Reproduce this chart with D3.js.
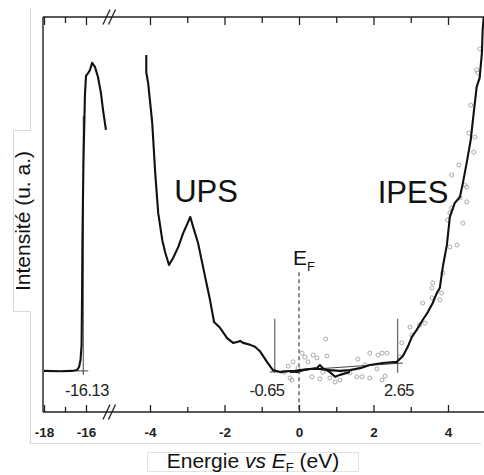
<!DOCTYPE html>
<html><head><meta charset="utf-8">
<script src="https://cdn.jsdelivr.net/npm/d3@7"></script>
<style>body{margin:0;background:#fff} svg{display:block} text{font-family:"Liberation Sans",Arial,sans-serif}</style>
</head><body><svg id="c" width="484" height="475"></svg>
<script>
// ---- data (energy in eV vs E_F, intensity in arbitrary units 0..100) ----
const upsCutoffE = [-18.00,-17.24,-16.67,-16.43,-16.33,-16.26,-16.21,-16.19,-16.17,-16.12,-16.05,-16.00,-15.90,-15.81,-15.71,-15.57,-15.43,-15.29,-15.19,-15.05];
const upsCutoffI = [10.4,10.3,10.4,10.6,11.4,13.2,17.0,28.4,43.5,63.8,80.3,85.1,85.8,86.6,88.4,87.3,84.8,80.8,76.5,71.4];

const upsE = [-4.10,-4.10,-4.05,-3.94,-3.86,-3.78,-3.67,-3.59,-3.49,-3.38,-3.24,-3.11,-3.00,-2.92,-2.84,-2.71,-2.52,-2.39,-2.28,-2.12,-1.93,-1.77,-1.66,-1.58,-1.50,-1.31,-1.18,-1.05,-0.86,-0.70,-0.51,-0.24,-0.05,0.11,0.29,0.48,0.56,0.64,0.83,0.97,1.10,1.37];
const upsI = [90.4,86.0,83.3,73.2,60.5,50.4,43.5,40.3,37.2,39.0,41.8,45.3,47.6,49.4,46.8,42.8,34.2,28.4,22.8,21.3,18.7,17.5,17.7,18.0,17.5,17.0,16.5,15.4,12.7,10.6,10.1,10.4,10.1,10.6,10.9,11.1,11.9,11.1,10.1,8.9,9.4,10.1];

const ipesE = [-0.24,0.03,0.29,0.56,0.83,1.10,1.37,1.64,1.90,2.25,2.63,2.79,2.92,3.03,3.16,3.32,3.46,3.59,3.70,3.78,3.86,3.97,4.05,4.18,4.32,4.40,4.50,4.61,4.69,4.77,4.85,4.91,4.93,4.96];
const ipesI = [10.1,10.6,10.9,10.9,10.6,10.4,10.6,11.1,11.9,12.4,12.7,14.2,16.5,19.0,20.8,23.3,25.3,27.6,30.1,31.4,36.7,42.3,49.4,52.9,54.4,58.0,63.0,68.9,75.7,82.3,84.6,90.9,96.7,100];

const ipesRawE = [-0.40,-0.29,-0.24,-0.19,-0.16,-0.03,0.08,0.16,0.24,0.35,0.38,0.48,0.56,0.64,0.72,0.75,0.83,0.97,1.10,1.18,1.37,1.55,1.58,1.69,1.77,1.90,1.90,2.09,2.12,2.23,2.23,2.31,2.36,2.71,2.76,2.98,3.03,3.24,3.32,3.38,3.57,3.57,3.59,3.78,3.83,3.86,3.99,4.05,4.05,4.10,4.10,4.24,4.29,4.32,4.40,4.45,4.50,4.50,4.56,4.61,4.69,4.72,4.77,4.80,4.85];
const ipesRawI = [10.1,11.6,8.6,8.1,12.7,11.1,14.9,13.9,12.7,8.9,14.4,13.7,8.4,10.1,18.5,14.2,8.6,7.6,8.1,10.1,9.9,8.9,13.4,8.9,11.9,14.9,8.6,10.9,14.4,14.9,8.1,9.1,14.9,13.9,17.5,21.5,19.5,22.0,27.6,22.5,28.9,31.4,32.7,28.4,30.1,35.2,48.6,41.8,50.4,51.6,60.0,42.3,62.5,54.2,47.8,57.5,53.2,57.0,70.6,77.7,65.8,69.6,86.6,85.8,91.9];

const onsetValues = [-16.13, -0.65, 2.65];
const onsetLabels = ["-16.13", "-0.65", "2.65"];
const baselineFitE = [-0.78, 2.79];
const baselineFitI = [10.1, 12.4];

const majorTicksLeft = [-18, -16];
const minorTicksLeft = [-17];
const majorTicksRight = [-4, -2, 0, 2, 4];
const minorTicksRight = [-3, -1, 1, 3, 5];
const xTitle = ["Energie ", "vs", " ", "E", "F", " (eV)"];
const yTitle = "Intensité (u. a.)";

// ---- scales ----
const svg = d3.select("#c");
const xL = d3.scaleLinear().domain([-18, -16]).range([44, 86]);
const xR = d3.scaleLinear().domain([-4, 4]).range([150, 448]);
const X = e => (e < -10 ? xL(e) : xR(e));
const Y = d3.scaleLinear().domain([0, 100]).range([412, 17]);
const yTop = 17, yBot = 412, xLeft = 43, xRight = 484;

// ---- background frame artifacts ----
svg.append("path").attr("d", "M30.5,8 V130.5 H13.5 V311.5 H30.5 V443.5 H481")
  .attr("fill", "none").attr("stroke", "#d9d9d9").attr("stroke-width", 1);
svg.append("rect").attr("x", 147.5).attr("y", 452.5).attr("width", 211).attr("height", 19)
  .attr("fill", "#fff").attr("stroke", "#e2e2e2").attr("stroke-width", 1);

// ---- axes ----
function ticks(scale, vals, size, orient, y, labels) {
  const ax = (orient === "bottom" ? d3.axisBottom(scale) : d3.axisTop(scale))
    .tickValues(vals).tickSizeInner(size).tickSizeOuter(0).tickPadding(15);
  if (!labels) ax.tickFormat("");
  else ax.tickFormat(d => String(d));
  const g = svg.append("g").attr("transform", `translate(0,${y})`).call(ax);
  g.select(".domain").remove();
  g.selectAll("line").attr("stroke", "#222").attr("stroke-width", 1.3);
  g.selectAll("text").attr("fill", "#222").attr("font-size", 13.5).attr("font-weight", "bold")
    .style("font-family", "'Liberation Sans',Arial,sans-serif");
  return g;
}
ticks(xL, majorTicksLeft, -7, "bottom", yBot, true);
ticks(xL, minorTicksLeft, -5, "bottom", yBot, false);
ticks(xR, majorTicksRight, -7, "bottom", yBot, true);
ticks(xR, minorTicksRight, -5, "bottom", yBot, false);
ticks(xL, majorTicksLeft, -8, "top", yTop, false);
ticks(xL, minorTicksLeft, -6, "top", yTop, false);
ticks(xR, majorTicksRight, -8, "top", yTop, false);
ticks(xR, minorTicksRight, -6, "top", yTop, false);

const axisG = svg.append("g").attr("stroke", "#222").attr("stroke-width", 1.4);
axisG.append("line").attr("x1", xLeft).attr("x2", xRight).attr("y1", yBot).attr("y2", yBot);
axisG.append("line").attr("x1", xLeft).attr("x2", xRight).attr("y1", yTop).attr("y2", yTop);
axisG.append("line").attr("x1", xLeft).attr("x2", xLeft).attr("y1", yTop).attr("y2", yBot);
// break marks
[yTop, yBot].forEach(y0 => {
  [0, 5.5].forEach(dx => {
    svg.append("line").attr("x1", 103 + dx).attr("y1", y0 + 7.5).attr("x2", 110 + dx).attr("y2", y0 - 7.5)
      .attr("stroke", "#222").attr("stroke-width", 1.3);
  });
});

// ---- E_F dashed line ----
svg.append("line").attr("x1", X(0)).attr("x2", X(0)).attr("y1", Y(35.4)).attr("y2", Y(0))
  .attr("stroke", "#333").attr("stroke-width", 1.1).attr("stroke-dasharray", "4,3");

// ---- raw IPES points ----
svg.append("g").selectAll("circle").data(ipesRawE.map((e, i) => [e, ipesRawI[i]])).join("circle")
  .attr("cx", d => X(d[0])).attr("cy", d => Y(d[1])).attr("r", 2)
  .attr("fill", "none").attr("stroke", "#aaa").attr("stroke-width", 1);

// ---- onset markers ----
const thin = svg.append("g").attr("stroke", "#444").attr("stroke-width", 1);
thin.append("line").attr("x1", X(onsetValues[0])).attr("x2", X(onsetValues[0])).attr("y1", Y(75)).attr("y2", Y(9.4));
thin.append("line").attr("x1", X(onsetValues[0]) - 6).attr("x2", X(onsetValues[0]) + 5).attr("y1", Y(10.4)).attr("y2", Y(10.4));
[1, 2].forEach(i => {
  thin.append("line").attr("x1", X(onsetValues[i])).attr("x2", X(onsetValues[i])).attr("y1", Y(23.6)).attr("y2", Y(9.9));
});
thin.append("line").attr("x1", X(baselineFitE[0])).attr("x2", X(baselineFitE[1]))
  .attr("y1", Y(baselineFitI[0])).attr("y2", Y(baselineFitI[1]));

// ---- curves ----
const line = d3.line().x(d => X(d[0])).y(d => Y(d[1]));
function curve(E, I) {
  svg.append("path").datum(E.map((e, i) => [e, I[i]])).attr("d", line)
    .attr("fill", "none").attr("stroke", "#111").attr("stroke-width", 2.1).attr("stroke-linejoin", "round");
}
curve(upsCutoffE, upsCutoffI);
curve(upsE, upsI);
curve(ipesE, ipesI);

// ---- labels ----
const labelPos = [87, 267, 399];
onsetLabels.forEach((t, i) => {
  svg.append("text").attr("x", labelPos[i]).attr("y", 396).attr("text-anchor", "middle")
    .attr("font-size", 16.5).attr("fill", "#222").attr("letter-spacing", -0.5).text(t);
});
svg.append("text").attr("x", 206).attr("y", 202).attr("text-anchor", "middle").attr("font-size", 31).attr("fill", "#111").text("UPS");
svg.append("text").attr("x", 413).attr("y", 203).attr("text-anchor", "middle").attr("font-size", 31).attr("fill", "#111").text("IPES");
const ef = svg.append("text").attr("x", 293).attr("y", 265).attr("font-size", 21).attr("fill", "#111");
ef.append("tspan").text("E");
ef.append("tspan").attr("font-size", 13).attr("dy", 6).text("F");

const xt = svg.append("text").attr("x", 253).attr("y", 468).attr("text-anchor", "middle").attr("font-size", 21).attr("fill", "#111");
xt.append("tspan").text(xTitle[0]);
xt.append("tspan").attr("font-style", "italic").text(xTitle[1]);
xt.append("tspan").text(xTitle[2]);
xt.append("tspan").attr("font-style", "italic").text(xTitle[3]);
xt.append("tspan").attr("font-size", 13).attr("dy", 4).text(xTitle[4]);
xt.append("tspan").attr("dy", -4).text(xTitle[5]);

svg.append("text").attr("transform", "translate(30,221) rotate(-90)").attr("text-anchor", "middle")
  .attr("font-size", 21).attr("fill", "#111").text(yTitle);
</script></body></html>
